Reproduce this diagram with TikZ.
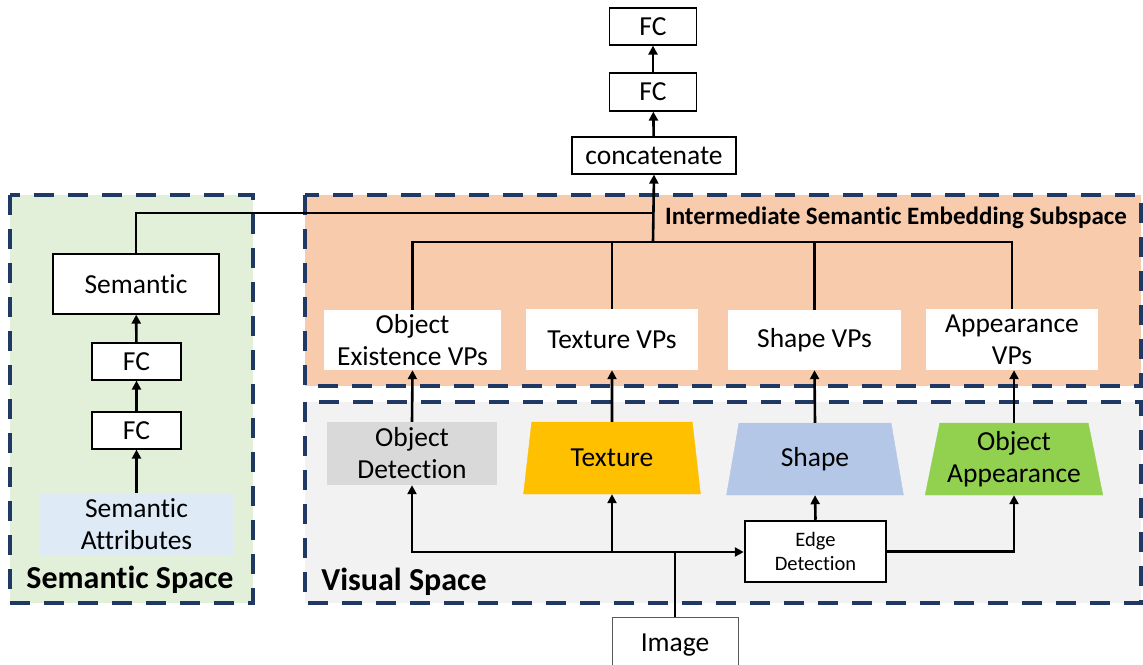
\documentclass[tikz,border=0pt]{standalone}
\usepackage{fontspec}
\setmainfont{Carlito}[Ligatures=NoCommon]
\usetikzlibrary{shapes.geometric,arrows.meta}
\definecolor{navy}{HTML}{203864}
\definecolor{semgreen}{HTML}{E2F0D9}
\definecolor{orangebg}{HTML}{F8CBAD}
\definecolor{greybg}{HTML}{F2F2F2}
\definecolor{odgrey}{HTML}{D9D9D9}
\definecolor{attrblue}{HTML}{DEEBF7}
\definecolor{texyellow}{HTML}{FFC000}
\definecolor{shapeblue}{HTML}{B4C7E7}
\definecolor{appgreen}{HTML}{92D050}
\newcommand{\fsnorm}{\fontsize{27.5}{32}\selectfont}
\begin{document}
\begin{tikzpicture}[x=1pt,y=-1pt,
  region/.style={draw=navy,line width=4pt,dash pattern=on 20pt off 14pt},
  box/.style={draw,fill=white,line width=1.2pt,inner sep=0pt,font=\fsnorm,align=center},
  plain/.style={fill=white,inner sep=0pt,font=\fsnorm,align=center},
  trap/.style={trapezium,trapezium angle=76.7,trapezium stretches=true,inner sep=0pt,
    minimum width=178pt,minimum height=72pt,font=\fsnorm,align=center},
  ln/.style={line width=2.6pt},
  arr/.style={line width=2.6pt,-{Triangle[length=9pt,width=9pt]}},
  lbl/.style={font=\fontsize{32}{36}\selectfont\bfseries}
]
\useasboundingbox (0,0) rectangle (1143,664);
% regions
\fill[semgreen] (10,195) rectangle (253,603);
\draw[region] (10,195) rectangle (253,603);
\fill[orangebg] (305,195) rectangle (1141,386);
\draw[region] (305,195) rectangle (1141,386);
\fill[greybg] (305,402) rectangle (1141,603);
\draw[region] (305,402) rectangle (1141,603);
% top stack
\node[box,minimum width=87pt,minimum height=37pt] (fc1) at (653,26.5) {FC};
\node[box,minimum width=87pt,minimum height=38pt] (fc2) at (653,92) {FC};
\node[box,minimum width=164pt,minimum height=37pt] (concat) at (654,155.5) {concatenate};
% semantic side
\node[box,minimum width=166pt,minimum height=60pt] (sem) at (136,284) {Semantic};
\node[box,minimum width=89pt,minimum height=37pt] (sfc1) at (136.5,361.5) {FC};
\node[box,minimum width=89pt,minimum height=37pt] (sfc2) at (136.5,430.5) {FC};
\node[plain,fill=attrblue,minimum width=193pt,minimum height=62pt] (attr) at (136.5,524) {Semantic\\Attributes};
\node[lbl,anchor=center] (semlbl) at (130,580) {Semantic Space};
% intermediate
\node[font=\fontsize{25}{28}\selectfont\bfseries] (intlbl) at (896,218) {Intermediate Semantic Embedding Subspace};
\node[plain,minimum width=177pt,minimum height=60pt] (oevp) at (412.5,340) {Object\\Existence VPs};
\node[plain,minimum width=172pt,minimum height=61pt] (tvp) at (612,339.5) {Texture VPs};
\node[plain,minimum width=173pt,minimum height=60pt] (svp) at (814.5,340) {Shape VPs};
\node[plain,minimum width=172pt,minimum height=61pt] (avp) at (1012,339.5) {Appearance\\VPs};
% visual
\node[plain,fill=odgrey,minimum width=170pt,minimum height=63pt] (od) at (412,453.5) {Object\\Detection};
\node[trap,fill=texyellow,draw=texyellow] (tex) at (612,458) {Texture};
\node[trap,fill=shapeblue,draw=shapeblue] (shp) at (815,459) {Shape};
\node[trap,fill=appgreen,draw=appgreen] (oa) at (1014,459) {Object\\Appearance};
\node[box,line width=2.5pt,minimum width=141pt,minimum height=61pt,font=\fontsize{20.5}{24}\selectfont] (edge) at (815.5,551.5) {Edge\\Detection};
\node[lbl] (vislbl) at (404,582) {Visual Space};
\node[box,draw=black!65,line width=1pt,minimum width=126pt,minimum height=56pt] (img) at (675,645) {Image};
% coordinates
\coordinate (bus) at (653,242);
\coordinate (semj) at (653,213);
\coordinate (ibus) at (675,552);
% top connections
\draw[arr] (fc2) -- (fc1);
\draw[arr] (concat) -- (fc2);
\draw[arr] (bus) -- (concat.south);
\draw[ln] (oevp.north) |- (bus) -| (avp.north);
\draw[ln] (tvp.north) -- (tvp.north |- bus);
\draw[ln] (svp.north) -- (svp.north |- bus);
\draw[ln] (sem.north) |- (semj);
% semantic stack
\draw[arr] (sfc1) -- (sem);
\draw[arr] (sfc2) -- (sfc1);
\draw[arr] (attr) -- (sfc2);
% visual to VPs
\draw[arr] (od.north) -- (oevp.south);
\draw[arr] (tex.north) -- (tvp.south);
\draw[arr] (shp.north) -- (svp.south);
\draw[arr] (oa.north) -- (avp.south -| oa.north);
% image bus
\draw[ln] (img.north) -- (ibus);
\draw[arr] (ibus) -- (edge.west |- ibus);
\draw[arr] (ibus) -| (od.south);
\draw[arr] (tex.south |- ibus) -- (tex.south);
\draw[arr] (edge.north) -- (shp.south);
\draw[arr] (edge.east) -| (oa.south);
\end{tikzpicture}
\end{document}
